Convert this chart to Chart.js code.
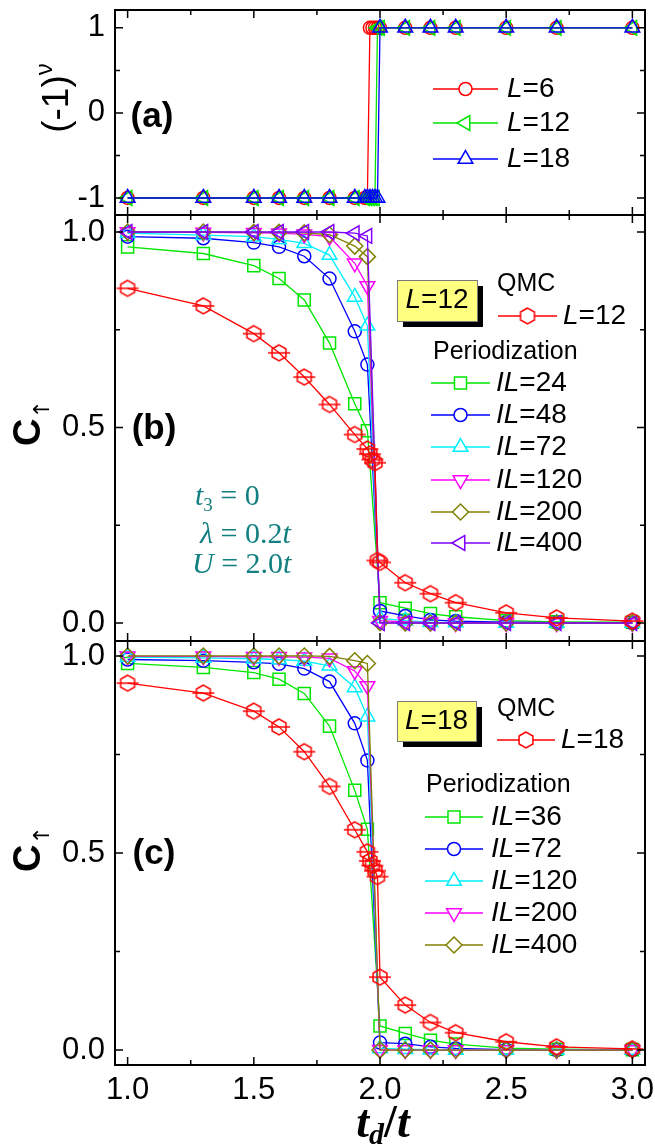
<!DOCTYPE html>
<html>
<head>
<meta charset="utf-8">
<script src="https://cdn.jsdelivr.net/npm/chart.js@4.4.1/dist/chart.umd.min.js"></script>
<style>
body { margin: 0; background: #fff; }
#wrap { position: relative; width: 655px; height: 1146px; overflow: hidden; background: #fff; }
canvas { position: absolute; left: 0; }
</style>
</head>
<body>
<div id="wrap">
  <canvas id="chartA" width="655" height="230" style="top:0px"></canvas>
  <canvas id="chartB" width="655" height="455" style="top:200px"></canvas>
  <canvas id="chartC" width="655" height="520" style="top:626px"></canvas>
</div>
<script>
const SANS = '"Liberation Sans", Arial, sans-serif';
const SERIF = '"Liberation Serif", "Times New Roman", serif';

// axis ticks
const xMajor = [1.0, 1.5, 2.0, 2.5, 3.0];
const xMinor = [1.25, 1.75, 2.25, 2.75];
const yMajorSign = [-1, 0, 1];
const yMinorSign = [-0.5, 0.5];
const yMajorC = [0.0, 0.5, 1.0];
const yMinorC = [0.25, 0.75];

// (a) (-1)^nu
const xSign = [1.0, 1.3, 1.5, 1.6, 1.7, 1.8, 1.9, 1.94, 1.95, 1.96, 1.97, 1.98, 1.99, 2.0, 2.1, 2.2, 2.3, 2.5, 2.7, 3.0];
const signL6  = [-1, -1, -1, -1, -1, -1, -1, -1, -1, 1, 1, 1, 1, 1, 1, 1, 1, 1, 1, 1];
const signL12 = [-1, -1, -1, -1, -1, -1, -1, -1, -1, -1, -1, -1, 1, 1, 1, 1, 1, 1, 1, 1];
const signL18 = [-1, -1, -1, -1, -1, -1, -1, -1, -1, -1, -1, -1, -1, 1, 1, 1, 1, 1, 1, 1];

// QMC points
const xQmc = [1.0, 1.3, 1.5, 1.6, 1.7, 1.8, 1.9, 1.95, 1.96, 1.97, 1.98, 1.99, 2.0, 2.1, 2.2, 2.3, 2.5, 2.7, 3.0];
const qmcL12 = [0.856, 0.811, 0.740, 0.691, 0.629, 0.559, 0.482, 0.445, 0.432, 0.418, 0.410, 0.160, 0.155, 0.103, 0.075, 0.052, 0.026, 0.013, 0.005];
const qmcL18 = [0.931, 0.906, 0.860, 0.820, 0.757, 0.669, 0.559, 0.503, 0.480, 0.468, 0.455, 0.440, 0.185, 0.114, 0.070, 0.044, 0.021, 0.008, 0.003];

// periodization points
const xPer = [1.0, 1.3, 1.5, 1.6, 1.7, 1.8, 1.9, 1.95, 2.0, 2.1, 2.2, 2.3, 2.5, 2.7, 3.0];
const perIL24  = [0.962, 0.945, 0.914, 0.881, 0.826, 0.716, 0.561, 0.492, 0.052, 0.038, 0.024, 0.016, 0.006, 0.003, 0.002];
const perIL48  = [0.988, 0.984, 0.973, 0.962, 0.938, 0.881, 0.746, 0.661, 0.031, 0.018, 0.008, 0.005, 0.002, 0.001, 0.000];
const perIL72  = [0.997, 0.992, 0.988, 0.981, 0.971, 0.941, 0.834, 0.760, 0.012, 0.006, 0.002, 0.001, 0.000, 0.000, 0.000];
const perIL120 = [1.000, 0.999, 0.998, 0.997, 0.994, 0.988, 0.920, 0.862, 0.006, 0.003, 0.001, 0.000, 0.000, 0.000, 0.000];
const perIL200 = [1.000, 1.000, 0.999, 0.999, 0.998, 0.993, 0.964, 0.937, 0.001, 0.000, 0.000, 0.000, 0.000, 0.000, 0.000];
const perIL400 = [1.000, 1.000, 1.000, 1.000, 1.000, 1.000, 0.997, 0.990, 0.000, 0.000, 0.000, 0.000, 0.000, 0.000, 0.000];

const perIL36c  = [0.981, 0.971, 0.958, 0.941, 0.905, 0.822, 0.659, 0.560, 0.061, 0.042, 0.025, 0.015, 0.005, 0.002, 0.001];
const perIL72c  = [0.991, 0.988, 0.984, 0.980, 0.968, 0.935, 0.829, 0.735, 0.019, 0.016, 0.008, 0.004, 0.001, 0.000, 0.000];
const perIL120c = [0.997, 0.995, 0.993, 0.991, 0.987, 0.975, 0.920, 0.846, 0.004, 0.002, 0.001, 0.000, 0.000, 0.000, 0.000];
const perIL200c = [0.999, 0.999, 0.998, 0.998, 0.997, 0.994, 0.962, 0.924, 0.001, 0.000, 0.000, 0.000, 0.000, 0.000, 0.000];
const perIL400c = [1.000, 1.000, 1.000, 1.000, 1.000, 0.999, 0.988, 0.981, 0.000, 0.000, 0.000, 0.000, 0.000, 0.000, 0.000];

// hexagon marker (with the error bar caps) for QMC
function hexMarker(withBar) {
  const c = document.createElement('canvas');
  c.width = 26; c.height = 20;
  const g = c.getContext('2d');
  g.strokeStyle = '#ff0000';
  g.lineWidth = 1.5;
  g.beginPath();
  for (let k = 0; k < 6; k++) {
    const a = Math.PI / 2 + k * Math.PI / 3;
    const px = 13 + 8 * Math.cos(a), py = 10 - 8 * Math.sin(a);
    if (k) g.lineTo(px, py); else g.moveTo(px, py);
  }
  g.closePath();
  if (!withBar) { g.fillStyle = '#fff'; g.fill(); }
  g.stroke();
  if (withBar) {
    g.beginPath(); g.moveTo(2, 10); g.lineTo(24, 10); g.stroke();
  }
  return c;
}
const hexPlot = hexMarker(true);
const hexLegend = hexMarker(false);

const SHAPES = {
  circle:  { pointStyle: 'circle', pointRadius: 6.5, pointRotation: 0 },
  square:  { pointStyle: 'rect', pointRadius: 8.5, pointRotation: 0 },
  up:      { pointStyle: 'triangle', pointRadius: 8.5, pointRotation: 0 },
  down:    { pointStyle: 'triangle', pointRadius: 8.5, pointRotation: 180 },
  left:    { pointStyle: 'triangle', pointRadius: 8.5, pointRotation: -90 },
  diamond: { pointStyle: 'rectRot', pointRadius: 8, pointRotation: 0 },
  hex:     { pointStyle: hexPlot, pointRadius: 8, pointRotation: 0, legendPointStyle: hexLegend }
};

function series(label, xs, ys, color, shape, order) {
  return Object.assign({
    label: label,
    data: xs.map((x, i) => ({ x: x, y: ys[i] })),
    borderColor: color,
    pointBorderColor: color,
    backgroundColor: 'rgba(0,0,0,0)',
    pointBackgroundColor: 'rgba(0,0,0,0)',
    borderWidth: 1.3,
    pointBorderWidth: 1.5,
    tension: 0,
    fill: false,
    order: order
  }, SHAPES[shape]);
}

// draw a row of text pieces [text, font, dy]
function drawRuns(ctx, x, y, runs, align) {
  let w = 0;
  runs.forEach(r => { ctx.font = r[1]; w += ctx.measureText(r[0]).width; });
  let cx = align === 'center' ? x - w / 2 : (align === 'right' ? x - w : x);
  runs.forEach(r => {
    ctx.font = r[1];
    ctx.fillText(r[0], cx, y + (r[2] || 0));
    cx += ctx.measureText(r[0]).width;
  });
}

const framePlugin = {
  id: 'frame',
  afterDatasetsDraw(chart, args, o) {
    const ctx = chart.ctx, a = chart.chartArea;
    const xs = chart.scales.x, ys = chart.scales.y;
    ctx.save();
    ctx.strokeStyle = '#000';
    ctx.lineWidth = 1.5;
    ctx.beginPath();
    const xt = (v, len) => {
      const p = xs.getPixelForValue(v);
      ctx.moveTo(p, a.bottom); ctx.lineTo(p, a.bottom - len);
      ctx.moveTo(p, a.top); ctx.lineTo(p, a.top + len);
    };
    const yt = (v, len) => {
      const p = ys.getPixelForValue(v);
      ctx.moveTo(a.left, p); ctx.lineTo(a.left + len, p);
      ctx.moveTo(a.right, p); ctx.lineTo(a.right - len, p);
    };
    xMajor.forEach(v => xt(v, 8));
    xMinor.forEach(v => xt(v, 5));
    o.yMajor.forEach(v => yt(v, 8));
    o.yMinor.forEach(v => yt(v, 5));
    ctx.stroke();
    ctx.lineWidth = 2;
    ctx.strokeRect(a.left, a.top, a.right - a.left, a.bottom - a.top);
    ctx.restore();
  }
};

const decoPlugin = {
  id: 'deco',
  afterDraw(chart, args, o) {
    const ctx = chart.ctx, oy = o.oy || 0;
    ctx.save();
    (o.boxes || []).forEach(b => {
      ctx.fillStyle = '#000';
      ctx.fillRect(b.x1 + 6, b.y1 - oy + 6, b.x2 - b.x1, b.y2 - b.y1);
      ctx.fillStyle = '#ffff80';
      ctx.fillRect(b.x1, b.y1 - oy, b.x2 - b.x1, b.y2 - b.y1);
      ctx.strokeStyle = '#7a7a7a'; ctx.lineWidth = 1;
      ctx.strokeRect(b.x1 + 0.5, b.y1 - oy + 0.5, b.x2 - b.x1, b.y2 - b.y1);
      ctx.fillStyle = '#000'; ctx.textBaseline = 'middle';
      drawRuns(ctx, (b.x1 + b.x2) / 2, (b.y1 + b.y2) / 2 - oy, b.runs, 'center');
    });
    (o.texts || []).forEach(t => {
      ctx.save();
      ctx.fillStyle = t.color || '#000';
      ctx.textBaseline = t.base || 'middle';
      ctx.translate(t.x, t.y - oy);
      if (t.rot) ctx.rotate(-Math.PI / 2);
      drawRuns(ctx, 0, 0, t.runs, t.align || 'left');
      ctx.restore();
    });
    (o.legend || []).forEach(e => {
      const ds = chart.data.datasets[e.ds];
      const y = e.y - oy;
      ctx.save();
      ctx.strokeStyle = ds.borderColor; ctx.lineWidth = ds.borderWidth;
      ctx.beginPath(); ctx.moveTo(e.x1, y); ctx.lineTo(e.x2, y); ctx.stroke();
      ctx.fillStyle = '#fff'; ctx.strokeStyle = ds.pointBorderColor; ctx.lineWidth = ds.pointBorderWidth;
      Chart.helpers.drawPoint(ctx, {
        pointStyle: ds.legendPointStyle || ds.pointStyle,
        rotation: ds.pointRotation || 0,
        radius: ds.pointRadius,
        borderWidth: ds.pointBorderWidth
      }, (e.x1 + e.x2) / 2, y);
      ctx.restore();
      const parts = ds.label.split('=');
      ctx.fillStyle = '#000'; ctx.textBaseline = 'middle';
      drawRuns(ctx, e.tx, y, [[parts[0], 'italic 28px ' + SANS], ['=' + parts[1], '28px ' + SANS]], 'left');
    });
    ctx.restore();
  }
};

function noOverflow(s) {
  s.paddingTop = 0; s.paddingBottom = 0; s.paddingLeft = 0; s.paddingRight = 0;
}

function makePanel(id, datasets, yMin, yMax, yMajor, yMinor, fmt, showX, pad, deco) {
  deco.yMajor = yMajor; deco.yMinor = yMinor;
  return new Chart(document.getElementById(id), {
    type: 'line',
    data: { datasets: datasets },
    options: {
      responsive: false,
      animation: false,
      events: [],
      layout: { padding: pad },
      plugins: { legend: { display: false }, tooltip: { enabled: false }, deco: deco, frame: deco },
      scales: {
        x: {
          type: 'linear', min: 0.95, max: 3.05, display: showX,
          grid: { display: false, drawTicks: false }, border: { display: false },
          afterBuildTicks: s => { s.ticks = xMajor.map(v => ({ value: v })); },
          ticks: { color: '#000', font: { family: SANS, size: 31 }, padding: 7, autoSkip: false, maxRotation: 0,
                   callback: v => v.toFixed(1) },
          afterFit: s => { noOverflow(s); if (showX) s.height = 81; }
        },
        y: {
          min: yMin, max: yMax,
          grid: { display: false, drawTicks: false }, border: { display: false },
          afterBuildTicks: s => { s.ticks = yMajor.map(v => ({ value: v })); },
          ticks: { color: '#000', font: { family: SANS, size: 31 }, padding: 10, callback: fmt },
          afterFit: s => { noOverflow(s); s.width = 115; }
        }
      }
    },
    plugins: [framePlugin, decoPlugin]
  });
}

const RED = '#ff0000', GREEN = '#00e600', BLUE = '#0000ff', CYAN = '#00efff',
      MAGENTA = '#ff00ff', OLIVE = '#808000', VIOLET = '#8000ff', TEAL = '#127f80';

// (a)
makePanel('chartA', [
  series('L=6', xSign, signL6, RED, 'circle', 2),
  series('L=12', xSign, signL12, GREEN, 'left', 1),
  series('L=18', xSign, signL18, BLUE, 'up', 0)
], -1.2, 1.21, yMajorSign, yMinorSign, v => String(v), false,
{ left: 0, right: 10, top: 9, bottom: 15 },
{
  oy: 0,
  texts: [
    { x: 152, y: 117, runs: [['(a)', 'bold 35px ' + SANS]], align: 'center' },
    { x: 58, y: 98, rot: true, align: 'center', runs: [['(-1)', '37px ' + SANS], ['\u03bd', '24px ' + SANS, -13]] }
  ],
  legend: [
    { ds: 0, x1: 433, x2: 498, tx: 507, y: 89 },
    { ds: 1, x1: 433, x2: 498, tx: 507, y: 123 },
    { ds: 2, x1: 433, x2: 498, tx: 507, y: 159 }
  ]
});

const cUpTitle = [['C', 'bold 38px ' + SANS], ['\u2191', '22px "DejaVu Sans", ' + SANS, 13]];
const annoFont = 'italic 30px ' + SERIF, annoUp = '30px ' + SERIF;

// (b)
makePanel('chartB', [
  series('L=12', xQmc, qmcL12, RED, 'hex', 0),
  series('IL=24', xPer, perIL24, GREEN, 'square', 6),
  series('IL=48', xPer, perIL48, BLUE, 'circle', 5),
  series('IL=72', xPer, perIL72, CYAN, 'up', 4),
  series('IL=120', xPer, perIL120, MAGENTA, 'down', 3),
  series('IL=200', xPer, perIL200, OLIVE, 'diamond', 2),
  series('IL=400', xPer, perIL400, VIOLET, 'left', 1)
], -0.046, 1.0435, yMajorC, yMinorC, v => v.toFixed(1), false,
{ left: 0, right: 10, top: 15, bottom: 14 },
{
  oy: 200,
  boxes: [{ x1: 397, y1: 280, x2: 477, y2: 321, runs: [['L', 'italic 28px ' + SANS], ['=12', '28px ' + SANS]] }],
  texts: [
    { x: 154, y: 429, runs: [['(b)', 'bold 35px ' + SANS]], align: 'center' },
    { x: 30, y: 423, rot: true, align: 'center', runs: cUpTitle },
    { x: 497, y: 284, runs: [['QMC', '25px ' + SANS]] },
    { x: 433, y: 352, runs: [['Periodization', '25px ' + SANS]] },
    { x: 195, y: 505, base: 'alphabetic', color: TEAL,
      runs: [['t', annoFont], ['3', '19px ' + SERIF, 6], [' = 0', annoUp]] },
    { x: 200, y: 543, base: 'alphabetic', color: TEAL,
      runs: [['\u03bb', annoFont], [' = 0.2', annoUp], ['t', annoFont]] },
    { x: 192, y: 573, base: 'alphabetic', color: TEAL,
      runs: [['U', annoFont], [' = 2.0', annoUp], ['t', annoFont]] }
  ],
  legend: [
    { ds: 0, x1: 498, x2: 557, tx: 563, y: 316 },
    { ds: 1, x1: 431, x2: 490, tx: 496, y: 383 },
    { ds: 2, x1: 431, x2: 490, tx: 496, y: 415 },
    { ds: 3, x1: 431, x2: 490, tx: 496, y: 447 },
    { ds: 4, x1: 431, x2: 490, tx: 496, y: 480 },
    { ds: 5, x1: 431, x2: 490, tx: 496, y: 512 },
    { ds: 6, x1: 431, x2: 490, tx: 496, y: 543 }
  ]
});

// (c)
makePanel('chartC', [
  series('L=18', xQmc, qmcL18, RED, 'hex', 0),
  series('IL=36', xPer, perIL36c, GREEN, 'square', 5),
  series('IL=72', xPer, perIL72c, BLUE, 'circle', 4),
  series('IL=120', xPer, perIL120c, CYAN, 'up', 3),
  series('IL=200', xPer, perIL200c, MAGENTA, 'down', 2),
  series('IL=400', xPer, perIL400c, OLIVE, 'diamond', 1)
], -0.038, 1.038, yMajorC, yMinorC, v => v.toFixed(1), true,
{ left: 0, right: 10, top: 15, bottom: 0 },
{
  oy: 626,
  boxes: [{ x1: 397, y1: 701, x2: 476, y2: 741, runs: [['L', 'italic 28px ' + SANS], ['=18', '28px ' + SANS]] }],
  texts: [
    { x: 154, y: 854, runs: [['(c)', 'bold 35px ' + SANS]], align: 'center' },
    { x: 30, y: 849, rot: true, align: 'center', runs: cUpTitle },
    { x: 497, y: 709, runs: [['QMC', '25px ' + SANS]] },
    { x: 426, y: 785, runs: [['Periodization', '25px ' + SANS]] },
    { x: 383, y: 1137, base: 'alphabetic', align: 'center',
      runs: [['t', 'bold italic 46px ' + SERIF], ['d', 'bold italic 30px ' + SERIF, 7], ['/', 'bold 46px ' + SERIF], ['t', 'bold italic 46px ' + SERIF]] }
  ],
  legend: [
    { ds: 0, x1: 497, x2: 555, tx: 561, y: 740 },
    { ds: 1, x1: 425, x2: 483, tx: 491, y: 817 },
    { ds: 2, x1: 425, x2: 483, tx: 491, y: 849 },
    { ds: 3, x1: 425, x2: 483, tx: 491, y: 881 },
    { ds: 4, x1: 425, x2: 483, tx: 491, y: 913 },
    { ds: 5, x1: 425, x2: 483, tx: 491, y: 945 }
  ]
});
</script>
</body>
</html>
